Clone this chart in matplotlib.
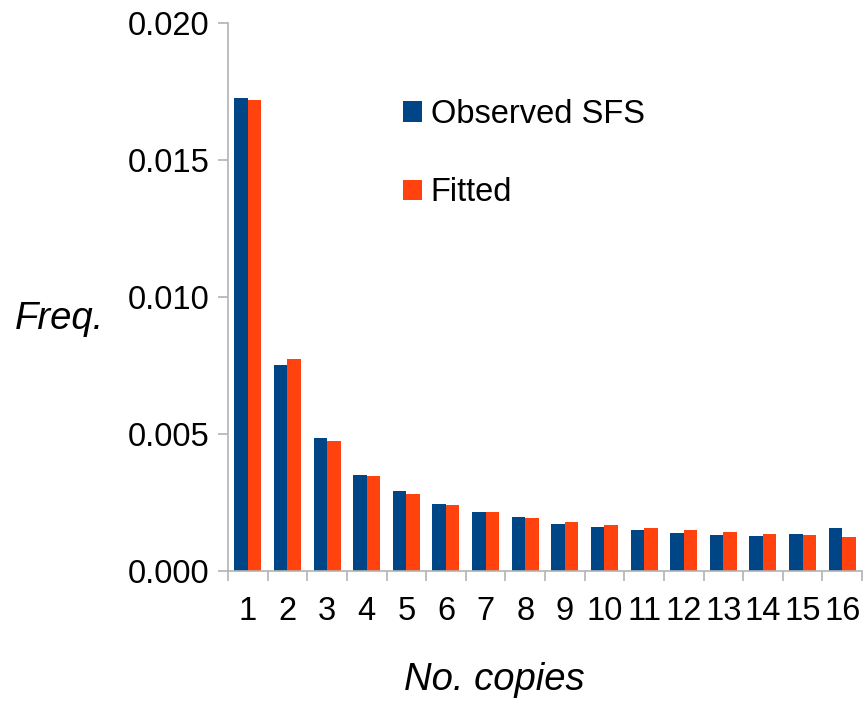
import numpy as np
import matplotlib.pyplot as plt
from matplotlib.ticker import FixedLocator

plt.rcParams['font.family'] = ['Liberation Sans', 'DejaVu Sans']

copies = list(range(1, 17))
observed = [0.01726, 0.00752, 0.00485, 0.00350, 0.00292, 0.00245, 0.00215, 0.00197,
            0.00172, 0.00161, 0.00150, 0.00139, 0.00131, 0.00128, 0.00135, 0.00157]
fitted = [0.01719, 0.00774, 0.00474, 0.00347, 0.00281, 0.00241, 0.00215, 0.00193,
          0.00179, 0.00168, 0.00157, 0.00150, 0.00142, 0.00135, 0.00131, 0.00124]
yticks = [0.000, 0.005, 0.010, 0.015, 0.020]

blue = '#004586'
orange = '#ff420e'
grey = '#b3b3b3'

fig = plt.figure(figsize=(8.65, 7.04), dpi=100)
ax = fig.add_axes([228 / 865, 1 - 571 / 704, 634 / 865, 548 / 704])

x = np.arange(len(copies))
w = 0.34
ax.bar(x - w / 2, observed, w, color=blue, label='Observed SFS')
ax.bar(x + w / 2, fitted, w, color=orange, label='Fitted')

ax.set_xlim(-0.5, len(copies) - 0.5)
ax.set_ylim(0, 0.020)

# labels at group centres, short tick marks on the group boundaries
ax.set_xticks(x)
ax.set_xticklabels([str(c) for c in copies])
ax.xaxis.set_minor_locator(FixedLocator(np.arange(-0.5, len(copies), 1.0)))
ax.tick_params(axis='x', which='major', length=0, pad=18, labelsize=23.5)
ax.tick_params(axis='x', which='minor', length=7.5, width=1.2, color=grey)

ax.set_yticks(yticks)
ax.set_yticklabels(['%.3f' % v for v in yticks])
ax.tick_params(axis='y', length=7.5, width=1.2, color=grey, pad=6, labelsize=23.5)

for side in ['top', 'right']:
    ax.spines[side].set_visible(False)
for side in ['left', 'bottom']:
    ax.spines[side].set_color(grey)
    ax.spines[side].set_linewidth(1.2)

fig.text(15 / 865, 1 - 319 / 704, 'Freq.', style='italic', fontsize=27.5,
         ha='left', va='center')
fig.text(494 / 865, 1 - 680 / 704, 'No. copies', style='italic', fontsize=27.5,
         ha='center', va='center')

ax.legend(loc='upper left', bbox_to_anchor=(403 / 865, 1 - 99 / 704),
          bbox_transform=fig.transFigure, frameon=False, fontsize=23.5,
          handlelength=0.58, handleheight=0.58, handletextpad=0.27,
          labelspacing=1.45, borderpad=0, borderaxespad=0)

fig.savefig('out.png', dpi=100)
